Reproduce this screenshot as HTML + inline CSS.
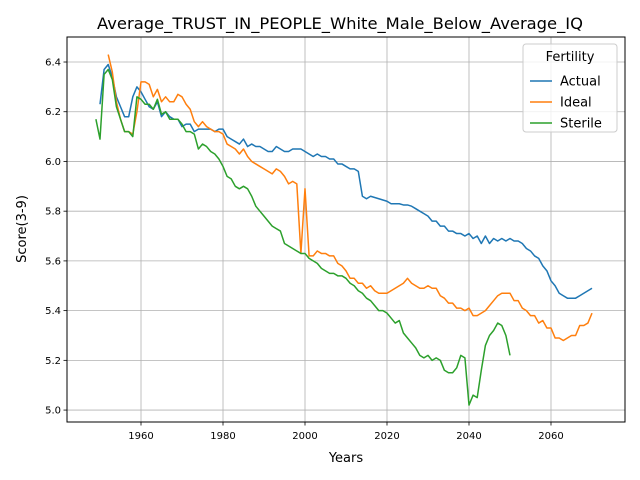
<!DOCTYPE html>
<html><head><meta charset="utf-8"><style>
body{margin:0;background:#fff;}
svg{display:block;font-family:"DejaVu Sans","Liberation Sans",sans-serif;}
</style></head><body>
<svg id="chart" width="640" height="480" xmlns="http://www.w3.org/2000/svg">
<rect width="640" height="480" fill="#fff"/>
<text x="340" y="29" text-anchor="middle" font-size="16" textLength="486" lengthAdjust="spacingAndGlyphs">Average_TRUST_IN_PEOPLE_White_Male_Below_Average_IQ</text>
<g id="grid"></g>
<g id="series"></g>
<rect x="67" y="37" width="558" height="385" fill="none" stroke="#000" stroke-width="1"/>
<g id="ticks"></g>
<text x="346" y="462" text-anchor="middle" font-size="13">Years</text>
<text transform="translate(26,229) rotate(-90)" text-anchor="middle" font-size="13">Score(3-9)</text>
<g id="legend"></g>
</svg>
<script>
const xTicks=[1960,1980,2000,2020,2040,2060];
const yTicks=[5.0,5.2,5.4,5.6,5.8,6.0,6.2,6.4];
const actualStart=1950;
const actual=[6.23,6.37,6.39,6.34,6.26,6.22,6.18,6.18,6.26,6.30,6.28,6.25,6.22,6.21,6.24,6.18,6.20,6.18,6.17,6.17,6.14,6.15,6.15,6.12,6.13,6.13,6.13,6.13,6.12,6.13,6.13,6.10,6.09,6.08,6.07,6.09,6.06,6.07,6.06,6.06,6.05,6.04,6.04,6.06,6.05,6.04,6.04,6.05,6.05,6.05,6.04,6.03,6.02,6.03,6.02,6.02,6.01,6.01,5.99,5.99,5.98,5.97,5.97,5.96,5.86,5.85,5.86,5.855,5.85,5.845,5.84,5.83,5.83,5.83,5.825,5.825,5.82,5.81,5.80,5.79,5.78,5.76,5.76,5.74,5.74,5.72,5.72,5.71,5.71,5.70,5.71,5.69,5.70,5.67,5.70,5.67,5.69,5.68,5.69,5.68,5.69,5.68,5.68,5.67,5.65,5.64,5.62,5.61,5.58,5.56,5.52,5.50,5.47,5.46,5.45,5.45,5.45,5.46,5.47,5.48,5.49];
const idealStart=1952;
const ideal=[6.43,6.36,6.24,6.17,6.12,6.12,6.11,6.20,6.32,6.32,6.31,6.26,6.29,6.24,6.26,6.24,6.24,6.27,6.26,6.23,6.21,6.16,6.14,6.16,6.14,6.13,6.12,6.12,6.11,6.07,6.06,6.05,6.03,6.05,6.02,6.00,5.99,5.98,5.97,5.96,5.95,5.97,5.96,5.94,5.91,5.92,5.91,5.63,5.89,5.62,5.62,5.64,5.63,5.63,5.62,5.62,5.59,5.58,5.56,5.53,5.53,5.51,5.51,5.49,5.50,5.48,5.47,5.47,5.47,5.48,5.49,5.50,5.51,5.53,5.51,5.50,5.49,5.49,5.50,5.49,5.49,5.46,5.45,5.43,5.43,5.41,5.41,5.40,5.41,5.38,5.38,5.39,5.40,5.42,5.44,5.46,5.47,5.47,5.47,5.44,5.44,5.41,5.40,5.38,5.38,5.35,5.36,5.33,5.33,5.29,5.29,5.28,5.29,5.30,5.30,5.34,5.34,5.35,5.39];
const sterileStart=1949;
const sterile=[6.17,6.09,6.35,6.37,6.33,6.22,6.17,6.12,6.12,6.10,6.26,6.25,6.23,6.23,6.21,6.25,6.19,6.20,6.17,6.17,6.17,6.15,6.12,6.12,6.11,6.05,6.07,6.06,6.04,6.03,6.01,5.98,5.94,5.93,5.90,5.89,5.90,5.89,5.86,5.82,5.80,5.78,5.76,5.74,5.73,5.72,5.67,5.66,5.65,5.64,5.63,5.63,5.61,5.60,5.59,5.57,5.56,5.55,5.55,5.54,5.54,5.53,5.51,5.50,5.48,5.47,5.45,5.44,5.42,5.40,5.40,5.39,5.37,5.35,5.36,5.31,5.29,5.27,5.25,5.22,5.21,5.22,5.20,5.21,5.20,5.16,5.15,5.15,5.17,5.22,5.21,5.02,5.06,5.05,5.16,5.26,5.30,5.32,5.35,5.34,5.30,5.22];
const seriesNames=["Actual","Ideal","Sterile"];
const colors=["#1f77b4","#ff7f0e","#2ca02c"];

const L=67,R=625,T=37,B=422;
const x0=1941.95,x1=2078.05,y0=4.952,y1=6.5006;
const xs=v=>L+(v-x0)/(x1-x0)*(R-L);
const ys=v=>B-(v-y0)/(y1-y0)*(B-T);
const NS="http://www.w3.org/2000/svg";
function mk(tag,attrs,parent){const e=document.createElementNS(NS,tag);for(const k in attrs)e.setAttribute(k,attrs[k]);parent.appendChild(e);return e;}
const grid=document.getElementById('grid'),ticks=document.getElementById('ticks'),ser=document.getElementById('series'),leg=document.getElementById('legend');
xTicks.forEach(t=>{const x=xs(t);
 const g=mk('line',{x1:x,x2:x,y1:T,y2:B,stroke:'#b0b0b0','stroke-width':0.8},grid);
 
 
 const tk=mk('line',{x1:x,x2:x,y1:B,y2:B+3.5,stroke:'#000','stroke-width':0.8},ticks);
 
 
 const tx=mk('text',{x:x,y:B+17,'text-anchor':'middle','font-size':10},ticks);tx.textContent=t;
 
 
});
yTicks.forEach(t=>{const y=ys(t);
 const g=mk('line',{x1:L,x2:R,y1:y,y2:y,stroke:'#b0b0b0','stroke-width':0.8},grid);
 
 
 const tk=mk('line',{x1:L-3.5,x2:L,y1:y,y2:y,stroke:'#000','stroke-width':0.8},ticks);
 
 
 const tx=mk('text',{x:L-6,y:y+3.5,'text-anchor':'end','font-size':10},ticks);tx.textContent=t.toFixed(1);
 
 
});
[[actual,actualStart],[ideal,idealStart],[sterile,sterileStart]].forEach((s,i)=>{
 const pts=s[0].map((v,j)=>xs(s[1]+j).toFixed(2)+','+ys(v).toFixed(2)).join(' ');
 const p=mk('polyline',{points:pts,fill:'none',stroke:colors[i],'stroke-width':1.5,'stroke-linejoin':'round'},ser);
 
 
});
const box=mk('rect',{x:523,y:44,width:94,height:88,rx:3,fill:'#fff','fill-opacity':0.8,stroke:'#ccc'},leg);


const lt=mk('text',{x:570,y:61,'text-anchor':'middle','font-size':13},leg);lt.textContent='Fertility';


seriesNames.forEach((n,i)=>{const y=81+i*21;
 const ln=mk('line',{x1:530,x2:552,y1:y,y2:y,stroke:colors[i],'stroke-width':1.5},leg);
 
 
 const tx=mk('text',{x:560,y:y+4.5,'font-size':13},leg);tx.textContent=n;
 
 
});
</script>
</body></html>
